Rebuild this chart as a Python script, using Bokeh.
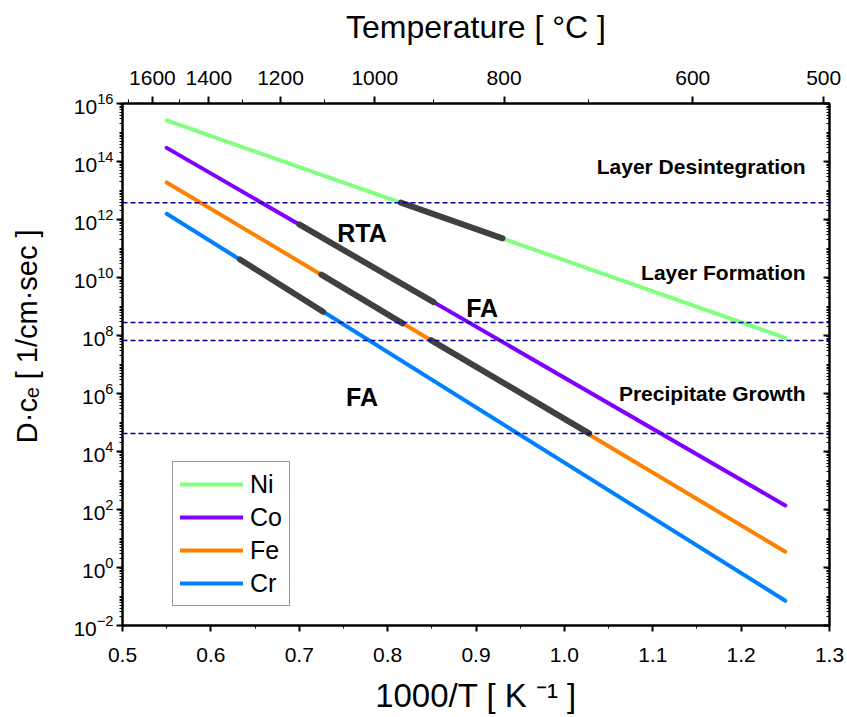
from bokeh.plotting import figure
from bokeh.models import (LinearAxis, LogAxis, FixedTicker, CustomJSTickFormatter,
                          NumeralTickFormatter, Span, Label, Legend, LegendItem, Range1d)
from bokeh.embed import file_html
from bokeh.resources import INLINE

# ------------------------------------------------------------------ data
elements = ["Ni", "Co", "Fe", "Cr"]
colors = ["#80FF80", "#8000FF", "#FF8000", "#0080FF"]

inv_T = [0.55, 1.25]                 # 1000/T [1/K] end points of each line
Dc_Ni = [2.6e15, 8.3e7]
Dc_Co = [2.95e14, 1.38e2]
Dc_Fe = [1.9e13, 3.5]
Dc_Cr = [1.58e12, 7.1e-2]

# highlighted process windows (dark segments)
hl_Ni_x = [0.815, 0.930]
hl_Ni_y = [3.8e12, 2.24e11]
hl_Co_x = [0.700, 0.852]
hl_Co_y = [6.8e11, 1.41e9]
hl_Fe1_x = [0.725, 0.817]
hl_Fe1_y = [1.26e10, 2.63e8]
hl_Fe2_x = [0.849, 1.028]
hl_Fe2_y = [6.9e7, 4.2e4]
hl_Cr_x = [0.633, 0.727]
hl_Cr_y = [4.17e10, 6.6e8]

thresholds = [3.8e12, 2.8e8, 6.7e7, 4.2e4]

region_labels = ["Layer Desintegration", "Layer Formation", "Precipitate Growth"]
region_y = [6.6e13, 1.52e10, 9.9e5]
process_labels = ["RTA", "FA", "FA"]
process_x = [0.771, 0.907, 0.771]
process_y = [3.49e11, 9.06e8, 7.43e5]

x_ticks = [0.5, 0.6, 0.7, 0.8, 0.9, 1.0, 1.1, 1.2, 1.3]
x_minor = [0.55, 0.65, 0.75, 0.85, 0.95, 1.05, 1.15, 1.25]
y_exponents = [-2, 0, 2, 4, 6, 8, 10, 12, 14, 16]
temp_ticks_C = [1600, 1400, 1200, 1000, 800, 600, 500]
temp_minor_C = [1700, 1500, 1300, 1100, 900, 700]

x_title = "1000/T [ K \u207b\u00b9 ]"
y_title = "\u00a0" * 7 + "D\u00b7c\u2091 [ 1/cm\u00b7sec ]"
top_title = "Temperature [ \u00b0C ]"

# ------------------------------------------------------------------ figure
FONT = "Liberation Sans"
W, H = 845, 716
p = figure(width=W, height=H, x_range=Range1d(0.5, 1.3), y_range=Range1d(1e-2, 1e16),
           y_axis_type="log", output_backend="svg", toolbar_location=None,
           min_border_left=122, min_border_right=16, min_border_top=103, min_border_bottom=84)
p.title.visible = False
p.xgrid.visible = False
p.ygrid.visible = False
p.outline_line_color = "black"
p.outline_line_width = 2
p.background_fill_color = "white"
p.border_fill_color = "white"

y_major = [10.0 ** e for e in y_exponents]
y_minor = [k * 10.0 ** n for n in range(-2, 16) for k in range(1, 10) if not (k == 1 and n % 2 == 0)]


def style(ax, out_major=6, out_minor=3, in_major=0, in_minor=0, standoff=4):
    ax.axis_line_width = 2
    ax.axis_line_color = "black"
    ax.major_tick_line_width = 2
    ax.minor_tick_line_width = 1
    ax.major_tick_line_color = "black"
    ax.minor_tick_line_color = "black"
    ax.major_tick_out = out_major
    ax.major_tick_in = in_major
    ax.minor_tick_out = out_minor
    ax.minor_tick_in = in_minor
    ax.major_label_text_font = FONT
    ax.major_label_text_font_size = "21px"
    ax.major_label_text_color = "black"
    ax.major_label_standoff = standoff
    ax.axis_label_text_font = FONT
    ax.axis_label_text_font_style = "normal"
    ax.axis_label_text_color = "black"


bottom = p.below[0]
bottom.ticker = FixedTicker(ticks=x_ticks, minor_ticks=x_minor)
bottom.formatter = NumeralTickFormatter(format="0.0")
style(bottom, standoff=16)
bottom.axis_label = x_title
bottom.axis_label_text_font_size = "33px"
bottom.axis_label_standoff = 12

left = p.left[0]
left.ticker = FixedTicker(ticks=y_major, minor_ticks=y_minor)
style(left, standoff=3)
left.axis_label = y_title
left.axis_label_text_font_size = "29px"
left.axis_label_standoff = 27

temp_x = [1000.0 / (t + 273.15) for t in temp_ticks_C]
temp_minor_x = [1000.0 / (t + 273.15) for t in temp_minor_C]
top = LinearAxis(ticker=FixedTicker(ticks=temp_x, minor_ticks=temp_minor_x))
top.formatter = CustomJSTickFormatter(
    args=dict(pos=temp_x, lab=[str(t) for t in temp_ticks_C]),
    code="""
    let best = 0, bd = Infinity;
    for (let i = 0; i < pos.length; i++) {
        const d = Math.abs(pos[i] - tick);
        if (d < bd) { bd = d; best = i; }
    }
    return lab[best];
    """)
style(top, out_major=7, out_minor=4, standoff=12)
top.axis_label = top_title
top.axis_label_text_font_size = "32px"
top.axis_label_standoff = 23
p.add_layout(top, "above")

right = LogAxis(ticker=FixedTicker(ticks=y_major, minor_ticks=y_minor))
right.formatter = CustomJSTickFormatter(code="return '';")
style(right, out_major=0, out_minor=0, in_major=6, in_minor=3, standoff=0)
p.add_layout(right, "right")

# ------------------------------------------------------------------ lines
series = [Dc_Ni, Dc_Co, Dc_Fe, Dc_Cr]
items = []
for name, col, ys in zip(elements, colors, series):
    r = p.line(inv_T, ys, line_color=col, line_width=4, line_cap="round")
    items.append(LegendItem(label=name, renderers=[r]))

DARK = "#404040"
for hx, hy in [(hl_Ni_x, hl_Ni_y), (hl_Co_x, hl_Co_y), (hl_Fe1_x, hl_Fe1_y),
               (hl_Fe2_x, hl_Fe2_y), (hl_Cr_x, hl_Cr_y)]:
    p.line(hx, hy, line_color=DARK, line_width=6, line_cap="round")

for th in thresholds:
    p.add_layout(Span(location=th, dimension="width", line_color="#000099",
                      line_width=1.6, line_dash="5 3"))

# ------------------------------------------------------------------ annotations
for txt, yv in zip(region_labels, region_y):
    p.add_layout(Label(x=1.273, y=yv, text=txt, text_font=FONT, text_font_size="21px",
                       text_font_style="bold", text_align="right",
                       text_baseline="alphabetic", text_color="black"))
for txt, xv, yv in zip(process_labels, process_x, process_y):
    p.add_layout(Label(x=xv, y=yv, text=txt, text_font=FONT, text_font_size="25px",
                       text_font_style="bold", text_align="center",
                       text_baseline="alphabetic", text_color="black"))

# ------------------------------------------------------------------ legend
legend = Legend(items=items, location=(50, 19), glyph_width=63, glyph_height=30,
                label_height=30, spacing=3, padding=7, margin=0, label_standoff=7,
                label_text_font=FONT, label_text_font_size="25px",
                label_text_color="black",
                border_line_color="#333333", border_line_width=1.5,
                background_fill_color="white", background_fill_alpha=1.0)
p.add_layout(legend)

open("out.html", "w").write(file_html(p, INLINE))
